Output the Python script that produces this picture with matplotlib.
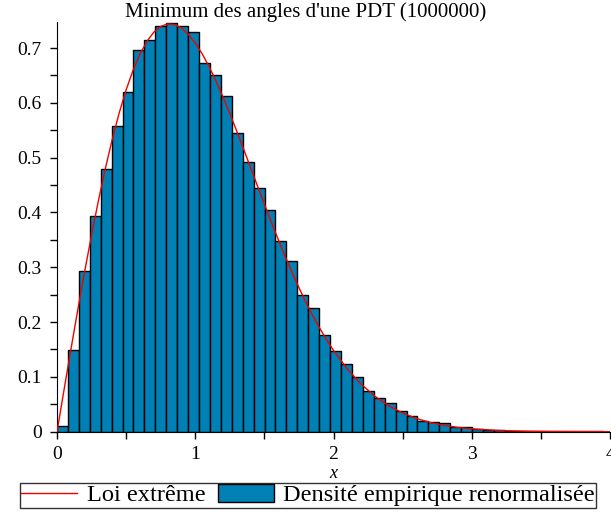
import matplotlib
matplotlib.use("Agg")
import matplotlib.pyplot as plt
from matplotlib.ticker import MultipleLocator
from matplotlib.lines import Line2D
from matplotlib.patches import Patch

plt.rcParams['font.family'] = ['Liberation Serif', 'DejaVu Serif']

title = "Minimum des angles d'une PDT (1000000)"
xlabel = "x"
legend_labels = ["Loi extrême", "Densité empirique renormalisée"]

bin_width = 0.079
bar_heights = [0.011, 0.149, 0.294, 0.393, 0.480, 0.557, 0.620, 0.696, 0.715, 0.741,
               0.746, 0.740, 0.730, 0.673, 0.650, 0.613, 0.545, 0.492, 0.444, 0.405,
               0.348, 0.311, 0.250, 0.225, 0.176, 0.147, 0.123, 0.099, 0.075, 0.061,
               0.052, 0.038, 0.029, 0.019, 0.018, 0.016, 0.0085, 0.0085, 0.005, 0.004,
               0.003, 0.002, 0.002, 0.0015, 0.001, 0.001, 0.001, 0.0008, 0.0005, 0.0005]
bar_lefts = [i * bin_width for i in range(len(bar_heights))]

curve_x = [0.0, 0.05, 0.1, 0.15, 0.2, 0.25, 0.3, 0.35, 0.4, 0.45, 0.5, 0.55, 0.6, 0.65,
           0.7, 0.75, 0.8, 0.85, 0.9, 0.95, 1.0, 1.05, 1.1, 1.15, 1.2, 1.25, 1.3, 1.35,
           1.4, 1.45, 1.5, 1.55, 1.6, 1.65, 1.7, 1.75, 1.8, 1.85, 1.9, 1.95, 2.0, 2.1,
           2.2, 2.3, 2.4, 2.5, 2.6, 2.7, 2.8, 2.9, 3.0, 3.2, 3.4, 3.6, 3.8, 4.0]
curve_y = [0.0, 0.0751, 0.1494, 0.2220, 0.2922, 0.3591, 0.4221, 0.4805, 0.5339, 0.5817,
           0.6236, 0.6594, 0.6889, 0.7120, 0.7288, 0.7394, 0.7440, 0.7429, 0.7364, 0.7250,
           0.7092, 0.6894, 0.6660, 0.6398, 0.6110, 0.5805, 0.5484, 0.5155, 0.4820, 0.4484,
           0.4152, 0.3825, 0.3507, 0.3200, 0.2906, 0.2628, 0.2364, 0.2118, 0.1889, 0.1677,
           0.1483, 0.1144, 0.0867, 0.0646, 0.0473, 0.0341, 0.0241, 0.0168, 0.0115, 0.0078,
           0.0052, 0.0022, 0.00085, 0.0003, 0.0001, 0.00003]

bar_color = "#0080B4"
line_color = "#F00000"

fig = plt.figure(figsize=(6.11, 5.12), dpi=100)
ax = fig.add_axes([0.0933, 0.1568, 0.9051, 0.8008])

ax.bar(bar_lefts, bar_heights, width=bin_width, align='edge', color=bar_color,
       edgecolor='black', linewidth=1.0, zorder=2)
ax.plot(curve_x, curve_y, color=line_color, linewidth=1.0, zorder=3)

ax.set_xlim(0, 4)
ax.set_ylim(0, 0.748)
ax.spines['top'].set_visible(False)
ax.spines['right'].set_visible(False)
ax.xaxis.set_major_locator(MultipleLocator(1))
ax.xaxis.set_minor_locator(MultipleLocator(0.5))
ax.yaxis.set_major_locator(MultipleLocator(0.1))
ax.yaxis.set_minor_locator(MultipleLocator(0.05))
ax.set_yticks([0, 0.1, 0.2, 0.3, 0.4, 0.5, 0.6, 0.7])
ax.set_yticklabels(["0", "0.1", "0.2", "0.3", "0.4", "0.5", "0.6", "0.7"])
ax.set_xticks([0, 1, 2, 3, 4])
ax.set_xticklabels(["0", "1", "2", "3", "4"])
ax.tick_params(which='both', direction='out', labelsize=14, width=1)
ax.tick_params(which='major', length=5)
ax.tick_params(which='minor', length=5)
ax.tick_params(axis='x', pad=5)
ax.tick_params(axis='y', pad=6)

fig.text(0.5, 1 - 17 / 512, title, ha='center', va='baseline', fontsize=15)
ax.set_xlabel(xlabel, fontsize=13, style='italic', labelpad=1.5)

handles = [Line2D([0], [0], color=line_color, linewidth=1.0),
           Patch(facecolor=bar_color, edgecolor='black', linewidth=1.0)]
leg = fig.legend(handles, legend_labels, loc='lower center', bbox_to_anchor=(0.504, 0.008),
                 ncol=2, fontsize=17.6, frameon=True, fancybox=False, edgecolor='black',
                 handlelength=2.3, handleheight=0.72, borderpad=0.06, columnspacing=0.5,
                 handletextpad=0.38, borderaxespad=0)
leg.get_frame().set_linewidth(1.0)

fig.savefig("out.png", dpi=100)
